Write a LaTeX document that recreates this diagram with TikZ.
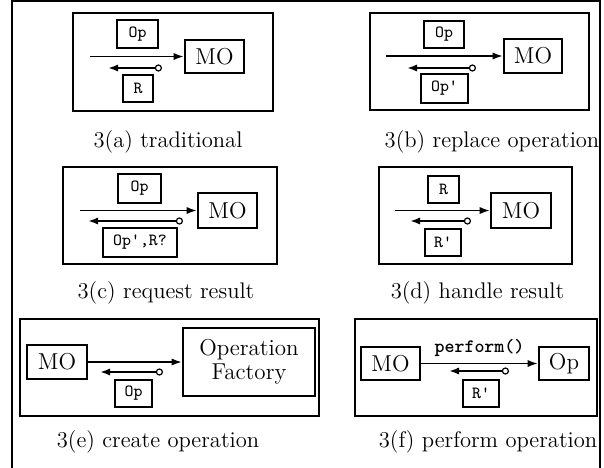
\documentclass[tikz,border=0pt]{standalone}
\usetikzlibrary{arrows.meta}
\begin{document}
\begin{tikzpicture}[x=0.5pt,y=-0.5pt,
  pageframe/.style={line width=1pt},
  frame/.style={draw,line width=1.2pt,inner sep=0pt},
  thinframe/.style={draw,line width=0.85pt,inner sep=0pt},
  thickframe/.style={draw,line width=1.35pt,inner sep=0pt},
  mobox/.style={draw,line width=1.3pt,inner sep=0pt,font=\fontsize{11.5}{13}\selectfont},
  lbl/.style={draw,line width=1.1pt,inner sep=0pt,font=\ttfamily\fontsize{8.5}{9}\selectfont},
  fwd/.style={line width=0.8pt,-{Latex[length=5pt,width=3.6pt]}},
  back/.style={line width=1.3pt,{Latex[length=5pt,width=3.6pt]}-{Circle[open,length=3.6pt,line width=0.6pt]}},
  captext/.style={anchor=base,font=\fontsize{11.3}{13}\selectfont}]
\useasboundingbox (0,0) rectangle (604,467);
% page frame
\coordinate (p1) at (12,480);
\coordinate (p2) at (12,1);
\coordinate (p3) at (600,1);
\coordinate (p4) at (600,480);
\draw[pageframe] (p1) -- (p2) -- (p3) -- (p4);

% ---------- (a)
\node[frame,minimum width=100pt,minimum height=49pt] (fa) at (173,62) {};
\node[lbl,minimum width=20.5pt,minimum height=14pt] (opa) at (137.5,34) {Op};
\node[mobox,minimum width=29.5pt,minimum height=16.5pt] (moa) at (214.5,56.5) {MO};
\coordinate (a1) at (90,56.5);
\draw[fwd] (a1) -- (moa);
\coordinate (a2) at (108,68);
\coordinate (a3) at (162,68);
\draw[back] (a2) -- (a3);
\node[lbl,minimum width=15pt,minimum height=13.5pt] (ra) at (138,88.5) {R};
\node[captext] (capa) at (168,147) {3(a) traditional};

% ---------- (b)
\node[frame,minimum width=109.5pt,minimum height=48.5pt] (fb) at (479.5,61.5) {};
\node[lbl,minimum width=20pt,minimum height=13.5pt] (opb) at (444,34.5) {Op};
\node[mobox,minimum width=29pt,minimum height=17pt] (mob) at (533,56) {MO};
\coordinate (b1) at (386,56);
\draw[fwd] (b1) -- (mob);
\coordinate (b2) at (407,68);
\coordinate (b3) at (476,68);
\draw[back] (b2) -- (b3);
\node[lbl,minimum width=23.5pt,minimum height=14.5pt] (opb2) at (444.5,88.5) {Op'};
\node[captext] (capb) at (492,147) {3(b) replace operation};

% ---------- (c)
\node[thinframe,minimum width=107pt,minimum height=48.5pt] (fc) at (170,215.5) {};
\node[lbl,minimum width=21.5pt,minimum height=14.5pt] (opc) at (139.5,188.5) {Op};
\node[mobox,minimum width=29.5pt,minimum height=17.5pt] (moc) at (227.5,210.5) {MO};
\coordinate (c1) at (80,210.5);
\draw[fwd] (c1) -- (moc);
\coordinate (c2) at (88,221);
\coordinate (c3) at (183,221);
\draw[back] (c2) -- (c3);
\node[lbl,minimum width=37pt,minimum height=14.5pt] (lc) at (140,242.5) {Op',R?};
\node[captext] (capc) at (166,298) {3(c) request result};

% ---------- (d)
\node[thinframe,minimum width=96.5pt,minimum height=48.5pt] (fd) at (475.5,215.5) {};
\node[lbl,minimum width=15.5pt,minimum height=13.5pt] (rd) at (443.5,189.5) {R};
\node[mobox,minimum width=30pt,minimum height=17.5pt] (mod) at (521,210.5) {MO};
\coordinate (d1) at (395,210.5);
\draw[fwd] (d1) -- (mod);
\coordinate (d2) at (410,221);
\coordinate (d3) at (471,221);
\draw[back] (d2) -- (d3);
\node[lbl,minimum width=18pt,minimum height=13.5pt] (rd2) at (443,242.5) {R'};
\node[captext] (capd) at (477.5,298) {3(d) handle result};

% ---------- (e)
\node[thickframe,minimum width=149.5pt,minimum height=48.5pt] (fe) at (169.5,367.5) {};
\node[mobox,minimum width=30pt,minimum height=17pt] (moe) at (57,362) {MO};
\node[mobox,minimum width=66pt,minimum height=34pt,align=center] (ofe) at (249,362) {Operation\\[-1pt]Factory};
\draw[fwd] (moe) -- (ofe);
\coordinate (e2) at (100,372);
\coordinate (e3) at (163,372);
\draw[back] (e2) -- (e3);
\node[lbl,minimum width=18.5pt,minimum height=13.5pt] (ope) at (133.5,393.5) {Op};
\node[captext] (cape) at (158,447) {3(e) create operation};

% ---------- (f)
\node[thickframe,minimum width=121pt,minimum height=48.5pt] (ff) at (476,367.5) {};
\node[mobox,minimum width=29.5pt,minimum height=16.5pt] (mof) at (390.5,363.5) {MO};
\node[mobox,minimum width=25pt,minimum height=16.5pt] (opf) at (564,363.5) {Op};
\draw[fwd] (mof) -- node[above=-0.5pt,font=\ttfamily\bfseries\fontsize{9.5}{10}\selectfont] (pf) {perform()} (opf);
\coordinate (f2) at (449,371);
\coordinate (f3) at (509,371);
\draw[back] (f2) -- (f3);
\node[lbl,minimum width=18pt,minimum height=13.5pt] (rf) at (481,393.5) {R'};
\node[captext] (capf) at (488,447) {3(f) perform operation};
\end{tikzpicture}
\end{document}
